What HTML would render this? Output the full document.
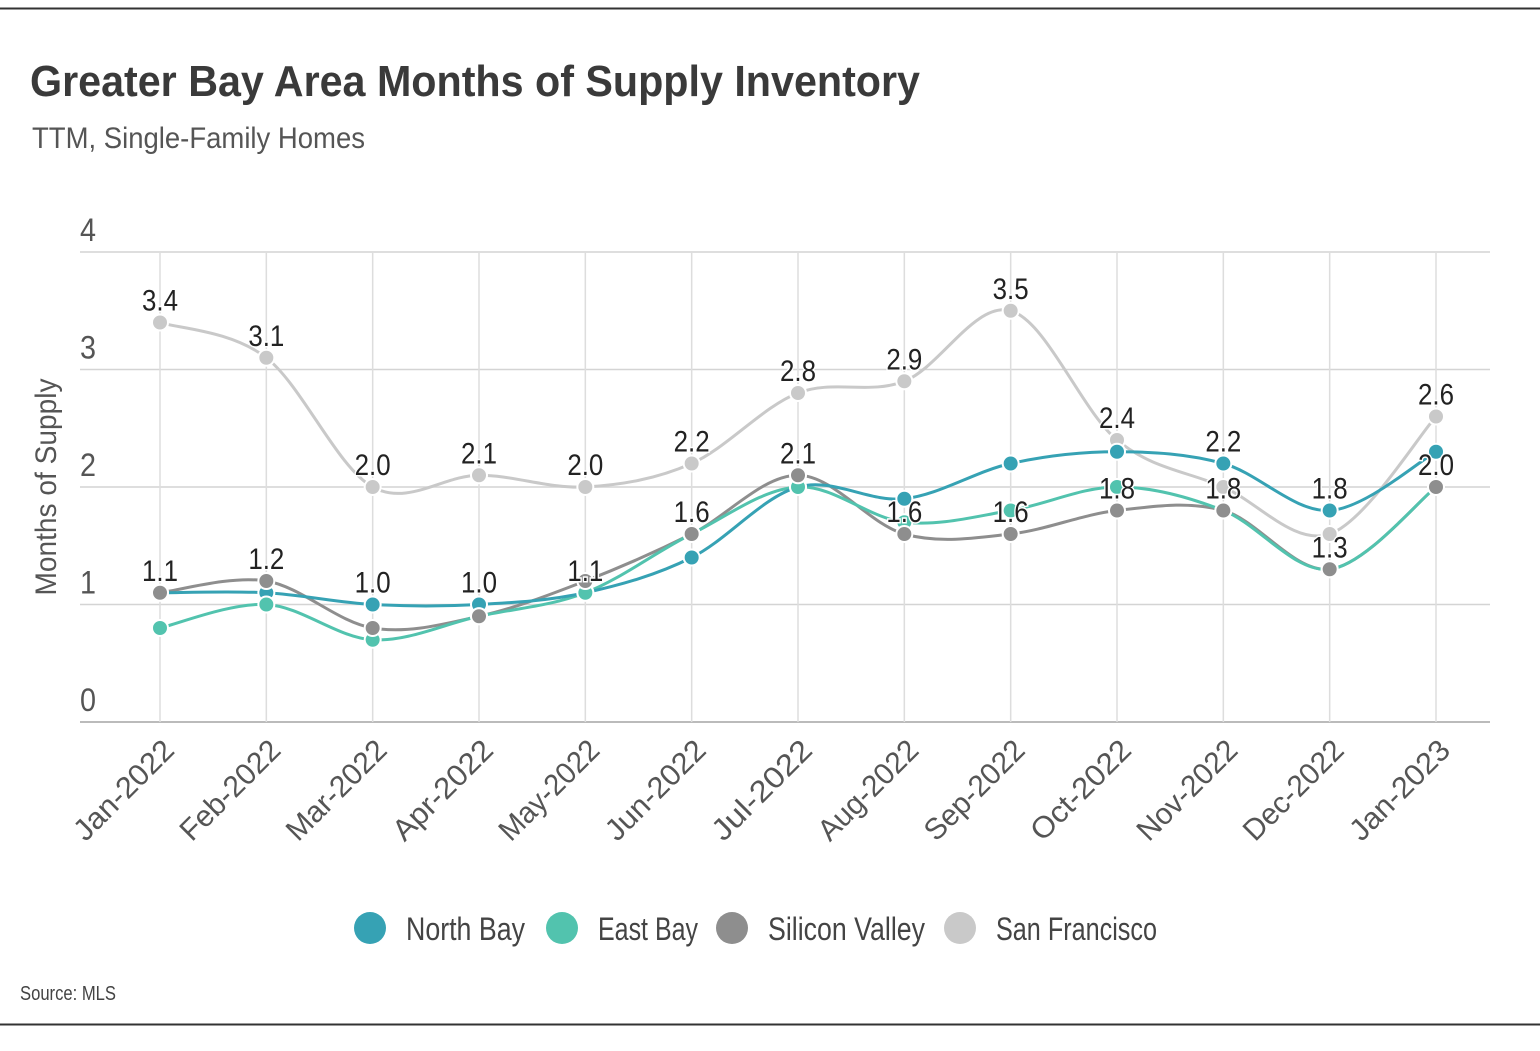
<!DOCTYPE html>
<html><head><meta charset="utf-8">
<style>
body{margin:0;background:#fff;}
svg text{font-family:"Liberation Sans Narrow","Liberation Sans",sans-serif;}
</style></head>
<body>
<svg id="chart" width="1540" height="1046" viewBox="0 0 1540 1046">
<line x1="0" y1="8.5" x2="1540" y2="8.5" stroke="#333" stroke-width="2"/>
<line x1="0" y1="1024.5" x2="1540" y2="1024.5" stroke="#333" stroke-width="2"/>
<text x="30" y="96" font-size="44" font-weight="bold" fill="#3a3a3a" textLength="890" lengthAdjust="spacingAndGlyphs">Greater Bay Area Months of Supply Inventory</text>
<text x="32" y="148" font-size="30" fill="#555" textLength="333" lengthAdjust="spacingAndGlyphs">TTM, Single-Family Homes</text>
<text transform="translate(56,487) rotate(-90)" text-anchor="middle" font-size="30" fill="#555" textLength="217" lengthAdjust="spacingAndGlyphs">Months of Supply</text>
<text x="20" y="1000" font-size="20" fill="#444" textLength="96" lengthAdjust="spacingAndGlyphs">Source:  MLS</text>
<g id="grid"></g><g id="series"></g><g id="labels"></g><g id="legend"></g>
</svg>
<script>
const categories=["Jan-2022","Feb-2022","Mar-2022","Apr-2022","May-2022","Jun-2022","Jul-2022","Aug-2022","Sep-2022","Oct-2022","Nov-2022","Dec-2022","Jan-2023"];
const northBay=[1.1,1.1,1.0,1.0,1.1,1.4,2.0,1.9,2.2,2.3,2.2,1.8,2.3];
const eastBay=[0.8,1.0,0.7,0.9,1.1,1.6,2.0,1.7,1.8,2.0,1.8,1.3,2.0];
const siliconValley=[1.1,1.2,0.8,0.9,1.2,1.6,2.1,1.6,1.6,1.8,1.8,1.3,2.0];
const sanFrancisco=[3.4,3.1,2.0,2.1,2.0,2.2,2.8,2.9,3.5,2.4,2.0,1.6,2.6];
const yTicks=[0,1,2,3,4];
const seriesNames=["North Bay","East Bay","Silicon Valley","San Francisco"];
const upperLabelSeries=[3,3,3,3,3,3,3,3,3,3,0,0,3];
const lowerLabelSeries=[2,2,0,0,0,2,2,2,2,2,2,2,2];
const colors=["#36a2b4","#52c3ae","#8e8e8e","#c9c9c9"];
const allSeries=[northBay,eastBay,siliconValley,sanFrancisco];
const NS="http://www.w3.org/2000/svg";
const x0=160,x1=1436,yBase=722,yTop=252;
const xs=i=>x0+(x1-x0)*i/(categories.length-1);
const ys=v=>yBase-(yBase-yTop)*v/4;
function mk(tag,attrs,parent){const e=document.createElementNS(NS,tag);for(const k in attrs)e.setAttribute(k,attrs[k]);parent.appendChild(e);return e;}
const grid=document.getElementById('grid');
yTicks.forEach(t=>{
 const l=mk('line',{x1:80,x2:1490,y1:ys(t),y2:ys(t),stroke:t===0?'#bbb':'#d4d4d4','stroke-width':t===0?2:1.5},grid);
 
 
 const tx=mk('text',{x:80,y:ys(t)-11,'font-size':32,fill:'#555',textLength:16,lengthAdjust:'spacingAndGlyphs'},grid);tx.textContent=t;
 
 
});
categories.forEach((c,i)=>{
 const l=mk('line',{x1:xs(i),x2:xs(i),y1:252,y2:722,stroke:'#ddd','stroke-width':1.5},grid);
 
 
 const tx=mk('text',{'text-anchor':'end','font-size':30,fill:'#555',textLength:128,lengthAdjust:'spacingAndGlyphs',transform:`translate(${xs(i)+16},752) rotate(-45)`},grid);tx.textContent=c;
 
 
});
function smooth(pts){let d=`M${pts[0][0]},${pts[0][1]}`;for(let i=0;i<pts.length-1;i++){const p0=pts[i-1]||pts[i],p1=pts[i],p2=pts[i+1],p3=pts[i+2]||p2;const c1=[p1[0]+(p2[0]-p0[0])/6,p1[1]+(p2[1]-p0[1])/6],c2=[p2[0]-(p3[0]-p1[0])/6,p2[1]-(p3[1]-p1[1])/6];d+=` C${c1[0]},${c1[1]} ${c2[0]},${c2[1]} ${p2[0]},${p2[1]}`;}return d;}
const sg=document.getElementById('series');
[3,2,1,0].forEach(s=>{
 const pts=allSeries[s].map((v,i)=>[xs(i),ys(v)]);
 const p=mk('path',{d:smooth(pts),fill:'none',stroke:colors[s],'stroke-width':3},sg);
 
 
});
[3,0,1,2].forEach(s=>{
 allSeries[s].forEach((v,i)=>{
  const c=mk('circle',{cx:xs(i),cy:ys(v),r:8,fill:colors[s],stroke:'#fff','stroke-width':2},sg);
  
  
 });
});
const lg=document.getElementById('labels');
categories.forEach((c,i)=>{
 [upperLabelSeries[i],lowerLabelSeries[i]].forEach(s=>{
  const v=allSeries[s][i];
  const t=mk('text',{x:xs(i),y:ys(v)-12,'text-anchor':'middle','font-size':30,fill:'#222',stroke:'#fff','stroke-width':3,'paint-order':'stroke',textLength:36,lengthAdjust:'spacingAndGlyphs'},lg);
  t.textContent=v.toFixed(1);
  
  
 });
});
const leg=document.getElementById('legend');
const legX=[370,562,732,960];
const legW=[119,100,157,161];
seriesNames.forEach((n,s)=>{
 const c=mk('circle',{cx:legX[s],cy:928,r:16,fill:colors[s]},leg);
 
 
 const t=mk('text',{x:legX[s]+36,y:940,'font-size':32,fill:'#444',textLength:legW[s],lengthAdjust:'spacingAndGlyphs'},leg);t.textContent=n;
 
 
});
</script>
</body></html>
